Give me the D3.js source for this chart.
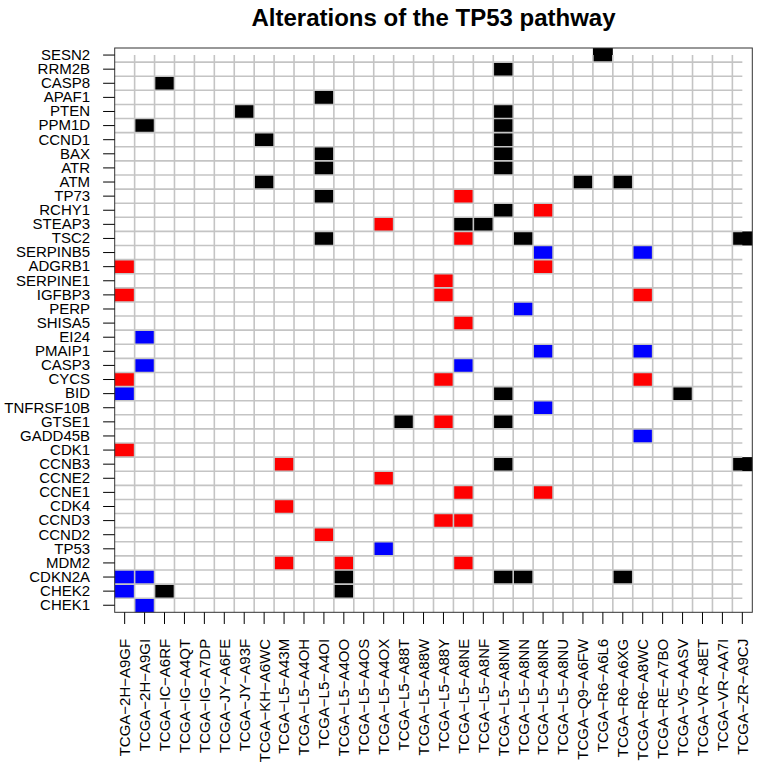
<!DOCTYPE html>
<html>
<head>
<meta charset="utf-8">
<script src="https://cdn.jsdelivr.net/npm/d3@7"></script>
<style>
  html, body { margin: 0; padding: 0; background: #ffffff; }
  svg { display: block; font-family: "Liberation Sans", Arial, Helvetica, sans-serif; }
</style>
</head>
<body>
<div id="chart"></div>
<script>
// ---- Data ----
const title = "Alterations of the TP53 pathway";

const genes = ["SESN2","RRM2B","CASP8","APAF1","PTEN","PPM1D","CCND1","BAX","ATR","ATM",
  "TP73","RCHY1","STEAP3","TSC2","SERPINB5","ADGRB1","SERPINE1","IGFBP3","PERP","SHISA5",
  "EI24","PMAIP1","CASP3","CYCS","BID","TNFRSF10B","GTSE1","GADD45B","CDK1","CCNB3",
  "CCNE2","CCNE1","CDK4","CCND3","CCND2","TP53","MDM2","CDKN2A","CHEK2","CHEK1"];

const samples = ["TCGA−2H−A9GF","TCGA−2H−A9GI","TCGA−IC−A6RF","TCGA−IG−A4QT","TCGA−IG−A7DP",
  "TCGA−JY−A6FE","TCGA−JY−A93F","TCGA−KH−A6WC","TCGA−L5−A43M","TCGA−L5−A4OH","TCGA−L5−A4OI",
  "TCGA−L5−A4OO","TCGA−L5−A4OS","TCGA−L5−A4OX","TCGA−L5−A88T","TCGA−L5−A88W","TCGA−L5−A88Y",
  "TCGA−L5−A8NE","TCGA−L5−A8NF","TCGA−L5−A8NM","TCGA−L5−A8NN","TCGA−L5−A8NR","TCGA−L5−A8NU",
  "TCGA−Q9−A6FW","TCGA−R6−A6L6","TCGA−R6−A6XG","TCGA−R6−A8WC","TCGA−RE−A7BO","TCGA−V5−AASV",
  "TCGA−VR−A8ET","TCGA−VR−AA7I","TCGA−ZR−A9CJ"];

// Alteration types: [gene, sample]
const mutated = [ // black
  ["SESN2","TCGA−R6−A6L6"],
  ["RRM2B","TCGA−L5−A8NM"],
  ["CASP8","TCGA−IC−A6RF"],
  ["APAF1","TCGA−L5−A4OI"],
  ["PTEN","TCGA−JY−A93F"],["PTEN","TCGA−L5−A8NM"],
  ["PPM1D","TCGA−2H−A9GI"],["PPM1D","TCGA−L5−A8NM"],
  ["CCND1","TCGA−KH−A6WC"],["CCND1","TCGA−L5−A8NM"],
  ["BAX","TCGA−L5−A4OI"],["BAX","TCGA−L5−A8NM"],
  ["ATR","TCGA−L5−A4OI"],["ATR","TCGA−L5−A8NM"],
  ["ATM","TCGA−KH−A6WC"],["ATM","TCGA−Q9−A6FW"],["ATM","TCGA−R6−A6XG"],
  ["TP73","TCGA−L5−A4OI"],
  ["RCHY1","TCGA−L5−A8NM"],
  ["STEAP3","TCGA−L5−A8NE"],["STEAP3","TCGA−L5−A8NF"],
  ["TSC2","TCGA−L5−A4OI"],["TSC2","TCGA−L5−A8NN"],["TSC2","TCGA−ZR−A9CJ"],
  ["BID","TCGA−L5−A8NM"],["BID","TCGA−V5−AASV"],
  ["GTSE1","TCGA−L5−A88T"],["GTSE1","TCGA−L5−A8NM"],
  ["CCNB3","TCGA−L5−A8NM"],["CCNB3","TCGA−ZR−A9CJ"],
  ["CDKN2A","TCGA−L5−A4OO"],["CDKN2A","TCGA−L5−A8NM"],["CDKN2A","TCGA−L5−A8NN"],["CDKN2A","TCGA−R6−A6XG"],
  ["CHEK2","TCGA−IC−A6RF"],["CHEK2","TCGA−L5−A4OO"]
];

const amplified = [ // red
  ["TP73","TCGA−L5−A8NE"],
  ["RCHY1","TCGA−L5−A8NR"],
  ["STEAP3","TCGA−L5−A4OX"],
  ["TSC2","TCGA−L5−A8NE"],
  ["ADGRB1","TCGA−2H−A9GF"],["ADGRB1","TCGA−L5−A8NR"],
  ["SERPINE1","TCGA−L5−A88Y"],
  ["IGFBP3","TCGA−2H−A9GF"],["IGFBP3","TCGA−L5−A88Y"],["IGFBP3","TCGA−R6−A8WC"],
  ["SHISA5","TCGA−L5−A8NE"],
  ["CYCS","TCGA−2H−A9GF"],["CYCS","TCGA−L5−A88Y"],["CYCS","TCGA−R6−A8WC"],
  ["GTSE1","TCGA−L5−A88Y"],
  ["CDK1","TCGA−2H−A9GF"],
  ["CCNB3","TCGA−L5−A43M"],
  ["CCNE2","TCGA−L5−A4OX"],
  ["CCNE1","TCGA−L5−A8NE"],["CCNE1","TCGA−L5−A8NR"],
  ["CDK4","TCGA−L5−A43M"],
  ["CCND3","TCGA−L5−A88Y"],["CCND3","TCGA−L5−A8NE"],
  ["CCND2","TCGA−L5−A4OI"],
  ["MDM2","TCGA−L5−A43M"],["MDM2","TCGA−L5−A4OO"],["MDM2","TCGA−L5−A8NE"]
];

const deleted = [ // blue
  ["SERPINB5","TCGA−L5−A8NR"],["SERPINB5","TCGA−R6−A8WC"],
  ["PERP","TCGA−L5−A8NN"],
  ["EI24","TCGA−2H−A9GI"],
  ["PMAIP1","TCGA−L5−A8NR"],["PMAIP1","TCGA−R6−A8WC"],
  ["CASP3","TCGA−2H−A9GI"],["CASP3","TCGA−L5−A8NE"],
  ["BID","TCGA−2H−A9GF"],
  ["TNFRSF10B","TCGA−L5−A8NR"],
  ["GADD45B","TCGA−R6−A8WC"],
  ["TP53","TCGA−L5−A4OX"],
  ["CDKN2A","TCGA−2H−A9GF"],["CDKN2A","TCGA−2H−A9GI"],
  ["CHEK2","TCGA−2H−A9GF"],
  ["CHEK1","TCGA−2H−A9GI"]
];

const alterationColors = { mutated: "#000000", amplified: "#ff0000", deleted: "#0000ff" };

// ---- Layout ----
const W = 757, H = 764;
const plotLeft = 114.7, plotRight = 752.3, plotTop = 48, plotBottom = 612.3;

const svg = d3.select("#chart").append("svg").attr("width", W).attr("height", H);

const x = d3.scaleBand().domain(samples).range([plotLeft, plotRight]).padding(0);
const y = d3.scaleBand().domain(genes).range([plotTop, plotBottom]).padding(0);

// cells
const cells = []
  .concat(mutated.map(d => ({ gene: d[0], sample: d[1], type: "mutated" })))
  .concat(amplified.map(d => ({ gene: d[0], sample: d[1], type: "amplified" })))
  .concat(deleted.map(d => ({ gene: d[0], sample: d[1], type: "deleted" })));

svg.append("g").selectAll("rect").data(cells).join("rect")
  .attr("x", d => x(d.sample))
  .attr("y", d => y(d.gene))
  .attr("width", x.bandwidth())
  .attr("height", y.bandwidth())
  .attr("fill", d => alterationColors[d.type]);

// grid
const grid = svg.append("g").attr("stroke", "#c4c4c4").attr("stroke-width", 1.6);
const firstRowCenter = y(genes[0]) + y.bandwidth() / 2;
const lastColCenter = x(samples[samples.length - 1]) + x.bandwidth() / 2;
grid.selectAll("line.v").data(samples.slice(1)).join("line").attr("class", "v")
  .attr("x1", d => x(d)).attr("x2", d => x(d))
  .attr("y1", firstRowCenter).attr("y2", plotBottom);
grid.selectAll("line.h").data(genes.slice(1)).join("line").attr("class", "h")
  .attr("x1", plotLeft).attr("x2", lastColCenter)
  .attr("y1", d => y(d)).attr("y2", d => y(d));

// box
svg.append("rect").attr("x", plotLeft).attr("y", plotTop)
  .attr("width", plotRight - plotLeft).attr("height", plotBottom - plotTop)
  .attr("fill", "none").attr("stroke", "#333").attr("stroke-width", 1);

// y axis
const yAxis = svg.append("g").attr("transform", `translate(${plotLeft},0)`)
  .call(d3.axisLeft(y).tickSize(11.6).tickPadding(13));
yAxis.select(".domain").remove();
yAxis.selectAll("text").attr("font-size", 15).attr("fill", "#000")
  .attr("font-family", "'Liberation Sans', Arial, sans-serif");
yAxis.selectAll("line").attr("stroke", "#000");

// x axis
const xAxis = svg.append("g").attr("transform", `translate(0,${plotBottom})`)
  .call(d3.axisBottom(x).tickSize(11.7));
xAxis.select(".domain").remove();
xAxis.selectAll("line").attr("stroke", "#000");
xAxis.selectAll("text")
  .attr("font-size", 15).attr("fill", "#000")
  .attr("font-family", "'Liberation Sans', Arial, sans-serif")
  .attr("transform", "rotate(-90)")
  .attr("x", -26.5).attr("y", 0).attr("dy", "0.36em")
  .style("text-anchor", "end");

// title
svg.append("text").attr("x", (plotLeft + plotRight) / 2).attr("y", 26)
  .attr("text-anchor", "middle").attr("font-size", 24).attr("font-weight", "bold")
  .attr("font-family", "'Liberation Sans', Arial, sans-serif")
  .text(title);
</script>
</body>
</html>
